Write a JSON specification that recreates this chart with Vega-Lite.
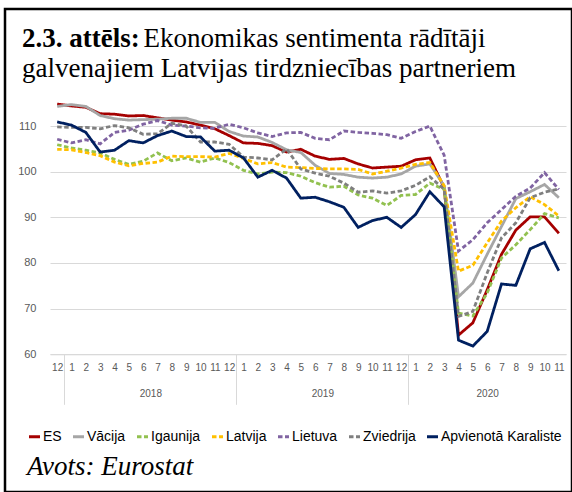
{
  "$schema": "https://vega.github.io/schema/vega-lite/v6.json",
  "width": 567,
  "height": 483,
  "autosize": {"type": "none"},
  "padding": {"left": 5, "top": 9, "right": 0, "bottom": 0},
  "background": "white",
  "config": {
    "view": {"stroke": "#000000", "strokeWidth": 2.5},
    "font": "Liberation Sans"
  },
  "title": {
    "text": "2.3. attēls:",
    "subtitle": ["\u200b\u00a0\u00a0\u00a0\u00a0\u00a0\u00a0\u00a0\u00a0\u00a0\u00a0\u00a0\u00a0\u00a0\u00a0\u00a0\u00a0\u00a0\u00a0Ekonomikas sentimenta rādītāji", "galvenajiem Latvijas tirdzniecības partneriem"],
    "anchor": "start",
    "frame": "group",
    "orient": "top",
    "dx": 17,
    "offset": -74,
    "font": "Liberation Serif",
    "fontSize": 27,
    "fontWeight": "bold",
    "color": "#000000",
    "subtitleFont": "Liberation Serif",
    "subtitleFontSize": 27,
    "subtitleFontWeight": "normal",
    "subtitleColor": "#000000",
    "subtitleLineHeight": 30,
    "subtitlePadding": -27
  },
  "data": {"values": [
    {"s":"ES","i":0,"v":114.8},{"s":"ES","i":1,"v":114.4},{"s":"ES","i":2,"v":114.1},{"s":"ES","i":3,"v":112.7},{"s":"ES","i":4,"v":112.6},{"s":"ES","i":5,"v":112.2},{"s":"ES","i":6,"v":112.3},{"s":"ES","i":7,"v":111.8},{"s":"ES","i":8,"v":111.3},{"s":"ES","i":9,"v":110.9},{"s":"ES","i":10,"v":110.2},{"s":"ES","i":11,"v":109.4},{"s":"ES","i":12,"v":107.9},{"s":"ES","i":13,"v":106.3},{"s":"ES","i":14,"v":106.2},{"s":"ES","i":15,"v":105.7},{"s":"ES","i":16,"v":104.3},{"s":"ES","i":17,"v":104.9},{"s":"ES","i":18,"v":103.4},{"s":"ES","i":19,"v":102.7},{"s":"ES","i":20,"v":102.9},{"s":"ES","i":21,"v":101.7},{"s":"ES","i":22,"v":100.8},{"s":"ES","i":23,"v":101.0},{"s":"ES","i":24,"v":101.2},{"s":"ES","i":25,"v":102.6},{"s":"ES","i":26,"v":103.0},{"s":"ES","i":27,"v":96.5},{"s":"ES","i":28,"v":64.2},{"s":"ES","i":29,"v":66.9},{"s":"ES","i":30,"v":74.1},{"s":"ES","i":31,"v":81.9},{"s":"ES","i":32,"v":87.2},{"s":"ES","i":33,"v":90.1},{"s":"ES","i":34,"v":90.1},{"s":"ES","i":35,"v":86.5},
    {"s":"Vācija","i":0,"v":114.3},{"s":"Vācija","i":1,"v":114.7},{"s":"Vācija","i":2,"v":114.3},{"s":"Vācija","i":3,"v":112.3},{"s":"Vācija","i":4,"v":111.6},{"s":"Vācija","i":5,"v":111.3},{"s":"Vācija","i":6,"v":111.4},{"s":"Vācija","i":7,"v":111.5},{"s":"Vācija","i":8,"v":111.7},{"s":"Vācija","i":9,"v":111.7},{"s":"Vācija","i":10,"v":110.8},{"s":"Vācija","i":11,"v":110.8},{"s":"Vācija","i":12,"v":108.8},{"s":"Vācija","i":13,"v":107.8},{"s":"Vācija","i":14,"v":107.6},{"s":"Vācija","i":15,"v":106.4},{"s":"Vācija","i":16,"v":104.8},{"s":"Vācija","i":17,"v":104.2},{"s":"Vācija","i":18,"v":101.4},{"s":"Vācija","i":19,"v":99.6},{"s":"Vācija","i":20,"v":99.4},{"s":"Vācija","i":21,"v":98.8},{"s":"Vācija","i":22,"v":98.6},{"s":"Vācija","i":23,"v":98.8},{"s":"Vācija","i":24,"v":99.5},{"s":"Vācija","i":25,"v":101.2},{"s":"Vācija","i":26,"v":101.7},{"s":"Vācija","i":27,"v":96.9},{"s":"Vācija","i":28,"v":72.6},{"s":"Vācija","i":29,"v":75.6},{"s":"Vācija","i":30,"v":81.9},{"s":"Vācija","i":31,"v":88.0},{"s":"Vācija","i":32,"v":94.1},{"s":"Vācija","i":33,"v":95.6},{"s":"Vācija","i":34,"v":97.2},{"s":"Vācija","i":35,"v":94.3},
    {"s":"Igaunija","i":0,"v":105.9},{"s":"Igaunija","i":1,"v":105.2},{"s":"Igaunija","i":2,"v":104.7},{"s":"Igaunija","i":3,"v":104.1},{"s":"Igaunija","i":4,"v":102.7},{"s":"Igaunija","i":5,"v":101.6},{"s":"Igaunija","i":6,"v":102.3},{"s":"Igaunija","i":7,"v":104.1},{"s":"Igaunija","i":8,"v":102.4},{"s":"Igaunija","i":9,"v":103.0},{"s":"Igaunija","i":10,"v":102.1},{"s":"Igaunija","i":11,"v":103.0},{"s":"Igaunija","i":12,"v":102.0},{"s":"Igaunija","i":13,"v":100.3},{"s":"Igaunija","i":14,"v":99.5},{"s":"Igaunija","i":15,"v":99.9},{"s":"Igaunija","i":16,"v":99.8},{"s":"Igaunija","i":17,"v":99.0},{"s":"Igaunija","i":18,"v":97.6},{"s":"Igaunija","i":19,"v":96.6},{"s":"Igaunija","i":20,"v":96.8},{"s":"Igaunija","i":21,"v":94.9},{"s":"Igaunija","i":22,"v":94.2},{"s":"Igaunija","i":23,"v":92.6},{"s":"Igaunija","i":24,"v":94.8},{"s":"Igaunija","i":25,"v":95.0},{"s":"Igaunija","i":26,"v":97.5},{"s":"Igaunija","i":27,"v":96.1},{"s":"Igaunija","i":28,"v":69.0},{"s":"Igaunija","i":29,"v":68.4},{"s":"Igaunija","i":30,"v":73.4},{"s":"Igaunija","i":31,"v":81.1},{"s":"Igaunija","i":32,"v":84.0},{"s":"Igaunija","i":33,"v":87.3},{"s":"Igaunija","i":34,"v":90.8},{"s":"Igaunija","i":35,"v":89.9},
    {"s":"Latvija","i":0,"v":104.9},{"s":"Latvija","i":1,"v":104.8},{"s":"Latvija","i":2,"v":104.2},{"s":"Latvija","i":3,"v":103.5},{"s":"Latvija","i":4,"v":102.1},{"s":"Latvija","i":5,"v":101.3},{"s":"Latvija","i":6,"v":101.8},{"s":"Latvija","i":7,"v":102.1},{"s":"Latvija","i":8,"v":103.4},{"s":"Latvija","i":9,"v":103.3},{"s":"Latvija","i":10,"v":103.3},{"s":"Latvija","i":11,"v":103.2},{"s":"Latvija","i":12,"v":104.0},{"s":"Latvija","i":13,"v":102.9},{"s":"Latvija","i":14,"v":101.7},{"s":"Latvija","i":15,"v":102.0},{"s":"Latvija","i":16,"v":101.0},{"s":"Latvija","i":17,"v":100.9},{"s":"Latvija","i":18,"v":100.7},{"s":"Latvija","i":19,"v":100.6},{"s":"Latvija","i":20,"v":100.6},{"s":"Latvija","i":21,"v":100.5},{"s":"Latvija","i":22,"v":99.5},{"s":"Latvija","i":23,"v":100.1},{"s":"Latvija","i":24,"v":100.8},{"s":"Latvija","i":25,"v":101.6},{"s":"Latvija","i":26,"v":102.0},{"s":"Latvija","i":27,"v":96.9},{"s":"Latvija","i":28,"v":78.2},{"s":"Latvija","i":29,"v":79.5},{"s":"Latvija","i":30,"v":84.4},{"s":"Latvija","i":31,"v":89.2},{"s":"Latvija","i":32,"v":92.1},{"s":"Latvija","i":33,"v":94.5},{"s":"Latvija","i":34,"v":92.8},{"s":"Latvija","i":35,"v":90.3},
    {"s":"Lietuva","i":0,"v":107.1},{"s":"Lietuva","i":1,"v":106.3},{"s":"Lietuva","i":2,"v":107.0},{"s":"Lietuva","i":3,"v":106.1},{"s":"Lietuva","i":4,"v":108.6},{"s":"Lietuva","i":5,"v":109.1},{"s":"Lietuva","i":6,"v":110.4},{"s":"Lietuva","i":7,"v":111.2},{"s":"Lietuva","i":8,"v":110.2},{"s":"Lietuva","i":9,"v":110.0},{"s":"Lietuva","i":10,"v":109.6},{"s":"Lietuva","i":11,"v":109.5},{"s":"Lietuva","i":12,"v":110.4},{"s":"Lietuva","i":13,"v":109.6},{"s":"Lietuva","i":14,"v":108.5},{"s":"Lietuva","i":15,"v":107.7},{"s":"Lietuva","i":16,"v":108.5},{"s":"Lietuva","i":17,"v":108.6},{"s":"Lietuva","i":18,"v":107.3},{"s":"Lietuva","i":19,"v":107.0},{"s":"Lietuva","i":20,"v":108.9},{"s":"Lietuva","i":21,"v":108.6},{"s":"Lietuva","i":22,"v":108.4},{"s":"Lietuva","i":23,"v":108.1},{"s":"Lietuva","i":24,"v":107.3},{"s":"Lietuva","i":25,"v":108.8},{"s":"Lietuva","i":26,"v":110.0},{"s":"Lietuva","i":27,"v":103.6},{"s":"Lietuva","i":28,"v":82.6},{"s":"Lietuva","i":29,"v":85.1},{"s":"Lietuva","i":30,"v":88.8},{"s":"Lietuva","i":31,"v":91.7},{"s":"Lietuva","i":32,"v":94.6},{"s":"Lietuva","i":33,"v":96.4},{"s":"Lietuva","i":34,"v":99.8},{"s":"Lietuva","i":35,"v":96.1},
    {"s":"Zviedrija","i":0,"v":109.8},{"s":"Zviedrija","i":1,"v":109.7},{"s":"Zviedrija","i":2,"v":109.7},{"s":"Zviedrija","i":3,"v":109.4},{"s":"Zviedrija","i":4,"v":110.1},{"s":"Zviedrija","i":5,"v":109.6},{"s":"Zviedrija","i":6,"v":108.2},{"s":"Zviedrija","i":7,"v":108.3},{"s":"Zviedrija","i":8,"v":110.6},{"s":"Zviedrija","i":9,"v":110.0},{"s":"Zviedrija","i":10,"v":106.5},{"s":"Zviedrija","i":11,"v":106.5},{"s":"Zviedrija","i":12,"v":106.0},{"s":"Zviedrija","i":13,"v":103.2},{"s":"Zviedrija","i":14,"v":103.0},{"s":"Zviedrija","i":15,"v":102.6},{"s":"Zviedrija","i":16,"v":105.0},{"s":"Zviedrija","i":17,"v":100.6},{"s":"Zviedrija","i":18,"v":99.7},{"s":"Zviedrija","i":19,"v":99.0},{"s":"Zviedrija","i":20,"v":97.5},{"s":"Zviedrija","i":21,"v":95.5},{"s":"Zviedrija","i":22,"v":95.8},{"s":"Zviedrija","i":23,"v":95.3},{"s":"Zviedrija","i":24,"v":95.8},{"s":"Zviedrija","i":25,"v":97.0},{"s":"Zviedrija","i":26,"v":98.9},{"s":"Zviedrija","i":27,"v":96.1},{"s":"Zviedrija","i":28,"v":68.3},{"s":"Zviedrija","i":29,"v":69.4},{"s":"Zviedrija","i":30,"v":77.8},{"s":"Zviedrija","i":31,"v":85.5},{"s":"Zviedrija","i":32,"v":88.8},{"s":"Zviedrija","i":33,"v":94.3},{"s":"Zviedrija","i":34,"v":95.5},{"s":"Zviedrija","i":35,"v":96.2},
    {"s":"Apvienotā Karaliste","i":0,"v":110.9},{"s":"Apvienotā Karaliste","i":1,"v":110.2},{"s":"Apvienotā Karaliste","i":2,"v":108.6},{"s":"Apvienotā Karaliste","i":3,"v":104.3},{"s":"Apvienotā Karaliste","i":4,"v":104.7},{"s":"Apvienotā Karaliste","i":5,"v":106.8},{"s":"Apvienotā Karaliste","i":6,"v":106.3},{"s":"Apvienotā Karaliste","i":7,"v":107.9},{"s":"Apvienotā Karaliste","i":8,"v":108.9},{"s":"Apvienotā Karaliste","i":9,"v":107.7},{"s":"Apvienotā Karaliste","i":10,"v":107.6},{"s":"Apvienotā Karaliste","i":11,"v":104.5},{"s":"Apvienotā Karaliste","i":12,"v":104.7},{"s":"Apvienotā Karaliste","i":13,"v":103.0},{"s":"Apvienotā Karaliste","i":14,"v":98.8},{"s":"Apvienotā Karaliste","i":15,"v":100.3},{"s":"Apvienotā Karaliste","i":16,"v":98.6},{"s":"Apvienotā Karaliste","i":17,"v":94.2},{"s":"Apvienotā Karaliste","i":18,"v":94.4},{"s":"Apvienotā Karaliste","i":19,"v":93.4},{"s":"Apvienotā Karaliste","i":20,"v":92.2},{"s":"Apvienotā Karaliste","i":21,"v":87.8},{"s":"Apvienotā Karaliste","i":22,"v":89.3},{"s":"Apvienotā Karaliste","i":23,"v":90.0},{"s":"Apvienotā Karaliste","i":24,"v":87.8},{"s":"Apvienotā Karaliste","i":25,"v":90.6},{"s":"Apvienotā Karaliste","i":26,"v":95.6},{"s":"Apvienotā Karaliste","i":27,"v":92.3},{"s":"Apvienotā Karaliste","i":28,"v":63.1},{"s":"Apvienotā Karaliste","i":29,"v":61.8},{"s":"Apvienotā Karaliste","i":30,"v":65.0},{"s":"Apvienotā Karaliste","i":31,"v":75.4},{"s":"Apvienotā Karaliste","i":32,"v":75.1},{"s":"Apvienotā Karaliste","i":33,"v":83.1},{"s":"Apvienotā Karaliste","i":34,"v":84.5},{"s":"Apvienotā Karaliste","i":35,"v":78.3}
  ]},
  "layer": [
    {
      "mark": {"type": "line", "strokeWidth": 2.8, "interpolate": "linear"},
      "encoding": {
        "x": {
          "field": "i", "type": "quantitative",
          "scale": {"domain": [-0.5, 35.5], "range": [45, 561], "nice": false, "zero": false},
          "axis": {
            "orient": "bottom", "offset": -137.7, "title": null,
            "values": [0,1,2,3,4,5,6,7,8,9,10,11,12,13,14,15,16,17,18,19,20,21,22,23,24,25,26,27,28,29,30,31,32,33,34,35],
            "labelExpr": "(datum.value + 11) % 12 + 1",
            "ticks": false, "grid": false, "domainColor": "#D9D9D9", "domainWidth": 1,
            "labelPadding": 8, "labelFontSize": 10, "labelColor": "#595959",
            "labelFlush": false, "labelOverlap": false
          }
        },
        "y": {
          "field": "v", "type": "quantitative",
          "scale": {"domain": [60, 115], "range": [345.3, 94.2], "nice": false, "zero": false},
          "axis": {
            "offset": -45, "title": null, "values": [60, 70, 80, 90, 100, 110],
            "grid": true, "gridColor": "#D9D9D9", "gridWidth": 1,
            "domain": false, "ticks": false, "labelPadding": 14,
            "labelFontSize": 11, "labelColor": "#595959"
          }
        },
        "color": {
          "field": "s", "type": "nominal",
          "scale": {
            "domain": ["ES", "Vācija", "Igaunija", "Latvija", "Lietuva", "Zviedrija", "Apvienotā Karaliste"],
            "range": ["#A50000", "#A6A6A6", "#92C150", "#FFC000", "#8064A2", "#7F7F7F", "#002060"]
          },
          "legend": {
            "orient": "none", "legendX": 22, "legendY": 420, "direction": "horizontal", "columns": 7,
            "title": "Avots: Eurostat", "titleOrient": "bottom", "titleAnchor": "start",
            "titleFont": "Liberation Serif", "titleFontSize": 27, "titleFontStyle": "italic",
            "titleFontWeight": "normal", "titleColor": "#000000", "titlePadding": 10,
            "symbolType": "stroke", "symbolSize": 121, "symbolStrokeWidth": 3.2,
            "labelFont": "Liberation Sans",
            "labelFontSize": 14, "labelColor": "#000000", "labelOffset": 1, "columnPadding": 4
          }
        },
        "strokeDash": {
          "field": "s", "type": "nominal",
          "scale": {
            "domain": ["ES", "Vācija", "Igaunija", "Latvija", "Lietuva", "Zviedrija", "Apvienotā Karaliste"],
            "range": [[1, 0], [1, 0], [4.5, 2.5], [4.5, 2.5], [4.5, 2.5], [4.5, 2.5], [1, 0]]
          }
        }
      }
    },
    {
      "mark": {"type": "point", "opacity": 0},
      "encoding": {
        "x": {
          "field": "i", "type": "quantitative",
          "scale": {"domain": [-0.5, 35.5], "range": [45, 561], "nice": false, "zero": false},
          "axis": {
            "orient": "bottom", "offset": -137.7, "title": null, "values": [6.5, 18.5, 30],
            "labelExpr": "datum.value < 10 ? '2018' : datum.value < 20 ? '2019' : '2020'",
            "ticks": false, "domain": false, "grid": false, "labelPadding": 34,
            "labelFontSize": 10, "labelColor": "#595959", "labelFlush": false
          }
        }
      }
    },
    {
      "mark": {"type": "point", "opacity": 0},
      "encoding": {
        "x": {
          "field": "i", "type": "quantitative",
          "scale": {"domain": [-0.5, 35.5], "range": [45, 561], "nice": false, "zero": false},
          "axis": {
            "orient": "bottom", "offset": -137.7, "title": null, "values": [0.5, 12.5, 24.5],
            "labels": false, "domain": false, "grid": false,
            "ticks": true, "tickSize": 50, "tickColor": "#D9D9D9", "tickWidth": 1
          }
        }
      }
    }
  ],
  "resolve": {"axis": {"x": "independent"}}
}
